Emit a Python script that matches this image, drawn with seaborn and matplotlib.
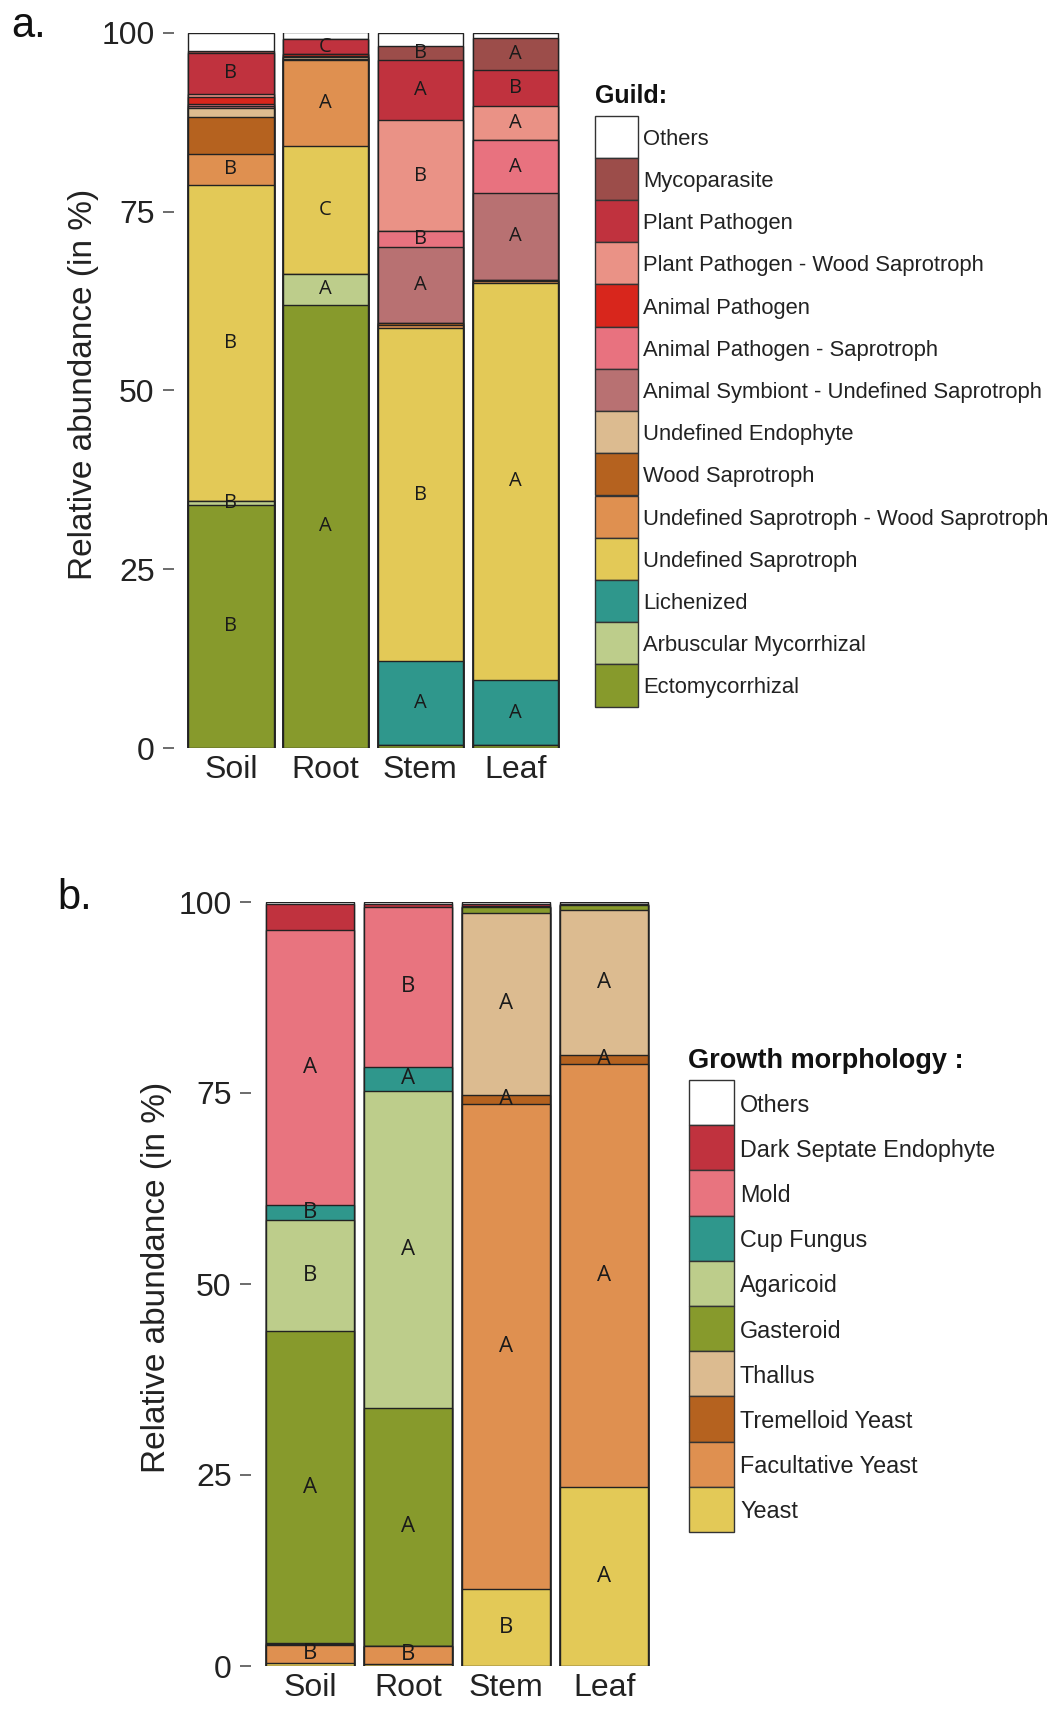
import matplotlib
matplotlib.use("Agg")
import matplotlib.pyplot as plt
from matplotlib.patches import Rectangle
import seaborn as sns

sns.set_style("white")
plt.rcParams["font.family"] = ["Liberation Sans", "DejaVu Sans"]

W, H = 1053, 1710

samples = ["Soil", "Root", "Stem", "Leaf"]

# ---- panel a: guild (legend order, top of stack first) ----
guild_names = [
    "Others", "Mycoparasite", "Plant Pathogen", "Plant Pathogen - Wood Saprotroph",
    "Animal Pathogen", "Animal Pathogen - Saprotroph", "Animal Symbiont - Undefined Saprotroph",
    "Undefined Endophyte", "Wood Saprotroph", "Undefined Saprotroph - Wood Saprotroph",
    "Undefined Saprotroph", "Lichenized", "Arbuscular Mycorrhizal", "Ectomycorrhizal",
]
guild_colors = [
    "#ffffff", "#9c4d4a", "#c0323e", "#ea9286", "#d8261c", "#e8727f", "#b87172",
    "#dcbb90", "#b5621f", "#df9050", "#e3c957", "#2f978c", "#bdcd8b", "#879a2c",
]
# values per sample: Soil, Root, Stem, Leaf
guild_values = [
    [2.5, 0.9, 1.8, 0.7],
    [0.3, 0.1, 2.0, 4.5],
    [5.7, 2.1, 8.4, 5.0],
    [0.4, 0.0, 15.5, 4.8],
    [1.0, 0.2, 0.0, 0.0],
    [0.3, 0.2, 2.2, 7.4],
    [0.3, 0.0, 10.7, 12.1],
    [1.3, 0.2, 0.0, 0.1],
    [5.1, 0.2, 0.3, 0.1],
    [4.3, 12.0, 0.3, 0.2],
    [44.2, 17.9, 46.7, 55.6],
    [0.0, 0.0, 11.7, 9.1],
    [0.6, 4.3, 0.0, 0.0],
    [34.0, 62.0, 0.4, 0.4],
]
guild_letters = [
    ["", "", "", ""],
    ["", "", "B", "A"],
    ["B", "C", "A", "B"],
    ["", "", "B", "A"],
    ["", "", "", ""],
    ["", "", "B", "A"],
    ["", "", "A", "A"],
    ["", "", "", ""],
    ["", "", "", ""],
    ["B", "A", "", ""],
    ["B", "C", "B", "A"],
    ["", "", "A", "A"],
    ["B", "A", "", ""],
    ["B", "A", "", ""],
]

# ---- panel b: growth morphology ----
morph_names = [
    "Others", "Dark Septate Endophyte", "Mold", "Cup Fungus", "Agaricoid",
    "Gasteroid", "Thallus", "Tremelloid Yeast", "Facultative Yeast", "Yeast",
]
morph_colors = [
    "#ffffff", "#c0323e", "#e8747f", "#2f978c", "#bdcd8b",
    "#879a2c", "#dcbb90", "#b5621f", "#df9050", "#e3c957",
]
morph_values = [
    [0.2, 0.2, 0.3, 0.3],
    [3.5, 0.4, 0.2, 0.0],
    [36.0, 21.0, 0.1, 0.1],
    [1.9, 3.1, 0.0, 0.0],
    [14.6, 41.5, 0.0, 0.0],
    [40.8, 31.2, 0.8, 0.7],
    [0.1, 0.0, 23.8, 18.9],
    [0.1, 0.0, 1.3, 1.2],
    [2.4, 2.3, 63.4, 55.4],
    [0.4, 0.3, 10.1, 23.4],
]
morph_letters = [
    ["", "", "", ""],
    ["", "", "", ""],
    ["A", "B", "", ""],
    ["B", "A", "", ""],
    ["B", "A", "", ""],
    ["A", "A", "", ""],
    ["", "", "A", "A"],
    ["", "", "A", "A"],
    ["B", "B", "A", "A"],
    ["", "", "B", "A"],
]

EDGE = "#222222"
TXT = "#222222"


def px_box(x0, y0, x1, y1):
    # pixel box (top-left origin) -> figure fraction [left, bottom, width, height]
    return [x0 / W, 1 - y1 / H, (x1 - x0) / W, (y1 - y0) / H]


def stacked(ax, names, colors, values, letters, letter_size):
    n = len(names)
    # cumulative height of each layer counted from the bottom of the stack
    tops = []
    for i in range(n):
        tops.append([sum(values[k][j] for k in range(i, n)) for j in range(len(samples))])
    # tallest first, each later bar covers the lower part of the previous one
    for i in range(n):
        sns.barplot(x=samples, y=tops[i], order=samples, color=colors[i], saturation=1,
                    width=0.9, edgecolor=EDGE, linewidth=1.0, errorbar=None, ax=ax)
    for i in range(n):
        for j in range(len(samples)):
            if letters[i][j]:
                mid = tops[i][j] - values[i][j] / 2
                ax.text(j, mid, letters[i][j], ha="center", va="center",
                        fontsize=letter_size, color="#1a1a1a",
                        family=["Open Sans", "DejaVu Sans"])
    ax.set_xlim(-0.6, 3.6)
    ax.set_ylim(0, 100)
    ax.set_yticks([0, 25, 50, 75, 100])
    ax.set_xlabel("")
    ax.set_ylabel("")
    for s in ax.spines.values():
        s.set_visible(False)
    ax.tick_params(axis="y", left=True, length=8, width=1.1, color="#444444", pad=6,
                   labelsize=23, labelcolor=TXT)
    ax.tick_params(axis="x", length=0, pad=5, labelsize=23, labelcolor=TXT)


def key(fig, x0, top, kw, kh, lx, names, colors, title, title_base, fs, tfs):
    fig.text(x0 / W, 1 - title_base / H, title, fontsize=tfs, fontweight="bold",
             color="#111111", va="baseline", ha="left")
    for i, (nm, c) in enumerate(zip(names, colors)):
        y = top + i * kh
        fig.add_artist(Rectangle((x0 / W, 1 - (y + kh) / H), kw / W, kh / H,
                                 transform=fig.transFigure, facecolor=c,
                                 edgecolor="#333333", linewidth=1.0))
        fig.text(lx / W, 1 - (y + kh / 2) / H, nm, fontsize=fs, color=TXT,
                 va="center_baseline", ha="left")


fig = plt.figure(figsize=(W / 100, H / 100), dpi=100)

ax_a = fig.add_axes(px_box(174, 33, 572, 748))
stacked(ax_a, guild_names, guild_colors, guild_values, guild_letters, 14.5)
fig.text(84 / W, 1 - 384 / H, "Relative abundance (in %)", rotation=90,
         ha="center", va="center", fontsize=24, color=TXT)
fig.text(11 / W, 1 - 37 / H, "a.", fontsize=30, va="baseline", color="#111111")
key(fig, 595, 115.7, 42.5, 42.2, 643, guild_names, guild_colors, "Guild:", 103, 15.8, 18)

ax_b = fig.add_axes(px_box(251, 902, 663, 1666))
stacked(ax_b, morph_names, morph_colors, morph_values, morph_letters, 16)
fig.text(156 / W, 1 - 1277 / H, "Relative abundance (in %)", rotation=90,
         ha="center", va="center", fontsize=24, color=TXT)
fig.text(57 / W, 1 - 909 / H, "b.", fontsize=30, va="baseline", color="#111111")
key(fig, 688.5, 1080, 45, 45.2, 740, morph_names, morph_colors,
    "Growth morphology :", 1068, 16.8, 19.5)

fig.savefig("out.png", dpi=100)
